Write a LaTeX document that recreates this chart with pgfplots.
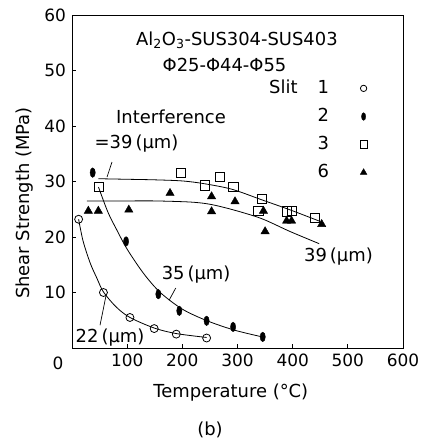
\documentclass[border=0pt]{standalone}
\usepackage{fontspec}
\setmainfont{DejaVu Sans}
\usepackage{pgfplots}
\pgfplotsset{compat=1.18}

\begin{document}
\fontsize{18}{21}\selectfont
\begin{tikzpicture}
\begin{axis}[
  name=ax,
  scale only axis, width=331bp, height=333bp,
  xmin=0, xmax=600, ymin=0, ymax=60,
  xtick={100,200,...,600}, ytick={10,20,...,60},
  tick pos=left, tick align=inside, major tick length=4bp,
  axis line style={line width=0.9pt},
  tick style={line width=0.7pt, black},
  /pgf/number format/assume math mode=true,
  ticklabel style={font=\fontsize{17}{20}\selectfont},
  clip=false,
  legend plot pos=right,
  legend cell align=right,
  legend image post style={scale=0.8},
  legend style={draw=none, fill=none, at={(axis cs:541,49.0)}, anchor=north east,
    font=\fontsize{18}{21}\selectfont, row sep=8bp,
    /tikz/every odd column/.append style={column sep=29bp}},
]
% Slit 1
\addplot[only marks, mark=o, mark size=4pt, mark options={fill=white, line width=0.8pt}]
  coordinates {(12,23.2) (57,10.0) (105,5.5) (149,3.5) (189,2.5) (244,1.8)};
\addlegendentry{Slit\hspace{20bp}1}
% Slit 2
\addplot[only marks, mark=*, mark size=4.8pt, mark options={xscale=0.55, fill=black}]
  coordinates {(37.5,31.6) (98,19.2) (156.5,9.7) (194.5,6.7) (244,4.9) (292,3.8) (345.7,2.0)};
\addlegendentry{2}
% Slit 3
\addplot[only marks, mark=square, mark size=4.6pt, mark options={line width=0.8pt}]
  coordinates {(49,29.0) (197.6,31.6) (241,29.3) (268,30.9) (292.5,29.1) (338,24.7)
    (344,26.8) (389,24.6) (398,24.7) (440.6,23.4)};
\addlegendentry{3}
% Slit 6
\addplot[only marks, mark=triangle*, mark size=4.8pt, mark options={fill=black}]
  coordinates {(29.6,24.7) (47.7,24.7) (103,24.9) (177.7,27.9) (253,27.3) (253,24.6)
    (295.5,26.4) (347,24.7) (350,21.0) (389,22.9) (398,22.9) (452.6,22.3)};
\addlegendentry{6}

% fitted curves
\addplot[smooth, line width=0.8pt, forget plot] coordinates {
  (12,23.2) (20,19.3) (33,15.3) (45,12.6) (57,10.1) (80,7.4) (105,5.5) (149,3.6) (189,2.6) (244,1.9)};
\addplot[smooth, line width=0.8pt, forget plot] coordinates {
  (48,29) (65,24.5) (80,21.5) (100,17.8) (130,13.4) (160,10.0) (200,7.0) (245,4.9) (295,3.2) (345,2.0)};
\addplot[smooth, line width=0.8pt, forget plot] coordinates {
  (48,30.5) (100,30.4) (150,30.3) (200,30.1) (240,29.6) (290,28.6) (344,26.7) (395,24.9) (450,22.8)};
\addplot[smooth, line width=0.8pt, forget plot] coordinates {
  (27,26.5) (100,26.5) (150,26.5) (214,26.3) (250,25.9) (292,24.9) (344,23.3) (395,21.0) (448,18.8)};

% leaders
\draw[line width=0.7pt] (axis cs:72.5,33.5) -- (axis cs:63.5,30.8);
\draw[line width=0.7pt] (axis cs:188,10.8) -- (axis cs:176,8.6);
\draw[line width=0.7pt] (axis cs:50.8,4.1) -- (axis cs:61.6,9.4);

% annotations
\node at (axis cs:299,55.5) {Al\textsubscript{2}O\textsubscript{3}-SUS304-SUS403};
\node at (axis cs:276.5,51) {Φ25-Φ44-Φ55};
\node at (axis cs:179.5,41.6) {Interference};
\node at (axis cs:117,36.9) {=39\,(μm)};
\node at (axis cs:225,13.2) {35\,(μm)};
\node at (axis cs:69,1.8) {22\,(μm)};
\node at (axis cs:483,16.4) {39\,(μm)};

% origin label, axis labels, caption
\path (rel axis cs:0,0) ++(-14bp,-15bp) node[font=\fontsize{17}{20}\selectfont] {0};
\path (rel axis cs:0.48,0) ++(0,-45bp) node {Temperature (°C)};
\path (rel axis cs:0,0.435) ++(-47bp,0) node[rotate=90] {Shear Strength (MPa)};
\path (rel axis cs:0.417,0) ++(0,-82bp) node {(b)};
\end{axis}
\path (ax.south west) ++(-72bp,-92bp) coordinate (bl);
\path (ax.north east) ++(21bp,15bp) coordinate (tr);
\pgfresetboundingbox
\path (bl) rectangle (tr);
\end{tikzpicture}
\end{document}
